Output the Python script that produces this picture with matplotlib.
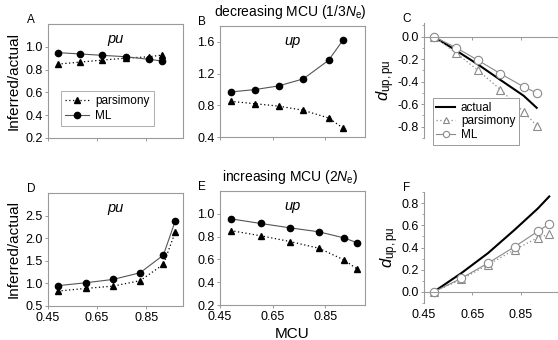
import matplotlib
matplotlib.use("Agg")
import matplotlib.pyplot as plt
from matplotlib.ticker import MultipleLocator, FixedLocator

plt.rcParams['font.family'] = ['Liberation Sans', 'DejaVu Sans']
plt.rcParams['mathtext.fontset'] = 'custom'
plt.rcParams['mathtext.rm'] = 'Liberation Sans'
plt.rcParams['mathtext.it'] = 'Liberation Sans:italic'

# MCU values for the two scenarios
mcu_dec = [0.49, 0.582, 0.672, 0.766, 0.862, 0.916]
mcu_inc = [0.49, 0.605, 0.715, 0.825, 0.92, 0.968]

# decreasing MCU (1/3 Ne)
pu_dec_ml = [0.949, 0.937, 0.925, 0.913, 0.89, 0.875]
pu_dec_pars = [0.848, 0.866, 0.884, 0.9, 0.913, 0.928]
up_dec_ml = [0.968, 0.998, 1.044, 1.133, 1.368, 1.62]
up_dec_pars = [0.85, 0.82, 0.79, 0.737, 0.64, 0.514]
d_dec_actual = [0.0, -0.123, -0.246, -0.385, -0.525, -0.632]
d_dec_pars = [0.0, -0.145, -0.298, -0.47, -0.668, -0.79]
d_dec_ml = [0.0, -0.098, -0.209, -0.329, -0.446, -0.5]

# increasing MCU (2 Ne)
pu_inc_ml = [0.949, 1.015, 1.088, 1.235, 1.625, 2.375]
pu_inc_pars = [0.83, 0.89, 0.94, 1.06, 1.42, 2.13]
up_inc_ml = [0.956, 0.915, 0.877, 0.842, 0.789, 0.748]
up_inc_pars = [0.853, 0.807, 0.757, 0.698, 0.596, 0.519]
d_inc_actual = [0.0, 0.17, 0.35, 0.56, 0.75, 0.86]
d_inc_pars = [0.0, 0.114, 0.246, 0.38, 0.488, 0.518]
d_inc_ml = [0.0, 0.123, 0.26, 0.407, 0.545, 0.611]

xticks = [0.45, 0.65, 0.85]
GRAY = '#9a9a9a'
MGRAY = '#8a8a8a'
W, H = 558.0, 340.0
TICK = 9

fig = plt.figure(figsize=(5.58, 3.40), dpi=100)


def box(l, t, r, b):
    return [l / W, 1 - b / H, (r - l) / W, (b - t) / H]


def ratio_panel(rect, x, ml, pars, ylim, yticks, label, letter, ticklabels):
    ax = fig.add_axes(rect)
    ax.plot(x, pars, color='black', lw=0.9, ls=(0, (1, 2)), marker='^', ms=4,
            label='parsimony')
    ax.plot(x, ml, color='#555555', lw=0.8, marker='o', ms=4.5,
            mfc='black', mec='black', label='ML')
    ax.set_xlim(0.45, 1.0)
    ax.set_ylim(*ylim)
    ax.yaxis.set_major_locator(FixedLocator(yticks))
    ax.yaxis.set_major_formatter(plt.FormatStrFormatter('%.1f'))
    ax.xaxis.set_major_locator(FixedLocator(xticks))
    if ticklabels:
        ax.set_xticklabels(['%.2f' % v for v in xticks])
    else:
        ax.set_xticklabels([])
    for s in ax.spines.values():
        s.set_color(GRAY)
        s.set_linewidth(0.8)
    ax.tick_params(labelsize=TICK, length=2.5, width=0.7, color=GRAY, pad=1.5)
    ax.text(0.5, 0.93, label, transform=ax.transAxes, ha='center', va='top',
            style='italic', fontsize=10.5)
    ax.text(-0.095, 0.98, letter, transform=ax.transAxes, ha='right',
            va='bottom', fontsize=8.5)
    return ax


def d_panel(rect, x, actual, pars, ml, ylim, yticks, letter, ticklabels):
    ax = fig.add_axes(rect)
    ax.plot(x, actual, color='black', lw=1.5, label='actual')
    ax.plot(x, pars, color=MGRAY, lw=0.9, ls=(0, (1, 2)), marker='^', ms=5.5,
            mfc='white', mec=MGRAY, mew=0.8, label='parsimony')
    ax.plot(x, ml, color=MGRAY, lw=0.8, marker='o', ms=6,
            mfc='white', mec=MGRAY, mew=0.8, label='ML')
    ax.set_xlim(0.45, 1.0)
    ax.set_ylim(*ylim)
    ax.spines['top'].set_visible(False)
    ax.spines['right'].set_visible(False)
    ax.spines['bottom'].set_position(('data', 0))
    for s in ax.spines.values():
        s.set_color(GRAY)
        s.set_linewidth(0.8)
    ax.yaxis.set_major_locator(FixedLocator(yticks))
    ax.yaxis.set_minor_locator(MultipleLocator(0.1))
    ax.yaxis.set_major_formatter(plt.FormatStrFormatter('%.1f'))
    ax.xaxis.set_major_locator(FixedLocator(xticks))
    ax.set_xticklabels([])
    ax.tick_params(axis='y', labelsize=TICK, length=2.5, width=0.7, color=GRAY,
                   pad=1.5)
    ax.tick_params(axis='y', which='minor', length=1.5, width=0.6, color=GRAY)
    ax.tick_params(axis='x', length=2.5, width=0.7, color=GRAY)
    if ticklabels:
        sec = ax.secondary_xaxis('bottom')
        sec.set_xticks(xticks)
        sec.set_xticklabels(['%.2f' % v for v in xticks])
        sec.spines['bottom'].set_visible(False)
        sec.tick_params(length=0, labelsize=TICK, pad=4)
    ax.set_ylabel(r'$d_{\rm up,pu}$', fontsize=12, labelpad=0)
    ax.text(-0.1, 0.98, letter, transform=ax.transAxes, ha='right',
            va='bottom', fontsize=8.5)
    return ax


axA = ratio_panel(box(48, 24, 183, 138), mcu_dec, pu_dec_ml, pu_dec_pars,
                  (0.2, 1.2), [0.2, 0.4, 0.6, 0.8, 1.0], 'pu', 'A', False)
axA.set_ylabel('Inferred/actual', fontsize=11, labelpad=3)
leg = axA.legend(loc='lower left', bbox_to_anchor=(0.05, 0.05), fontsize=8.5,
                 fancybox=False, edgecolor=GRAY, handlelength=2.0,
                 borderpad=0.4, labelspacing=0.2, handletextpad=0.5)
leg.get_frame().set_linewidth(0.7)

ratio_panel(box(220, 26, 365, 137), mcu_dec, up_dec_ml, up_dec_pars,
            (0.4, 1.8), [0.4, 0.8, 1.2, 1.6], 'up', 'B', False)

axC = d_panel(box(424, 23, 557, 138), mcu_dec, d_dec_actual, d_dec_pars,
              d_dec_ml, (-0.9, 0.12), [0.0, -0.2, -0.4, -0.6, -0.8], 'C', False)
leg = axC.legend(loc='lower left', bbox_to_anchor=(0.02, -0.11), fontsize=8.5,
                 fancybox=False, edgecolor=GRAY, handlelength=1.6,
                 borderpad=0.3, labelspacing=0.15, handletextpad=0.5,
                 markerscale=0.75, framealpha=1)
leg.get_frame().set_linewidth(0.7)

axD = ratio_panel(box(48, 193, 183, 306), mcu_inc, pu_inc_ml, pu_inc_pars,
                  (0.5, 3.0), [0.5, 1.0, 1.5, 2.0, 2.5], 'pu', 'D', True)
axD.set_ylabel('Inferred/actual', fontsize=11, labelpad=3)

axE = ratio_panel(box(220, 191, 365, 305), mcu_inc, up_inc_ml, up_inc_pars,
                  (0.2, 1.2), [0.2, 0.4, 0.6, 0.8, 1.0], 'up', 'E', True)
axE.set_xlabel('MCU', fontsize=11, labelpad=3)

d_panel(box(424, 192, 557, 303), mcu_inc, d_inc_actual, d_inc_pars,
        d_inc_ml, (-0.1, 0.9), [0.0, 0.2, 0.4, 0.6, 0.8], 'F', True)

fig.text(290 / W, 1 - 12 / H, r'decreasing MCU (1/3$N_{\rm e}$)',
         ha='center', va='center', fontsize=10)
fig.text(290 / W, 1 - 177 / H, r'increasing MCU (2$N_{\rm e}$)',
         ha='center', va='center', fontsize=10)

fig.savefig('out.png', dpi=100)
